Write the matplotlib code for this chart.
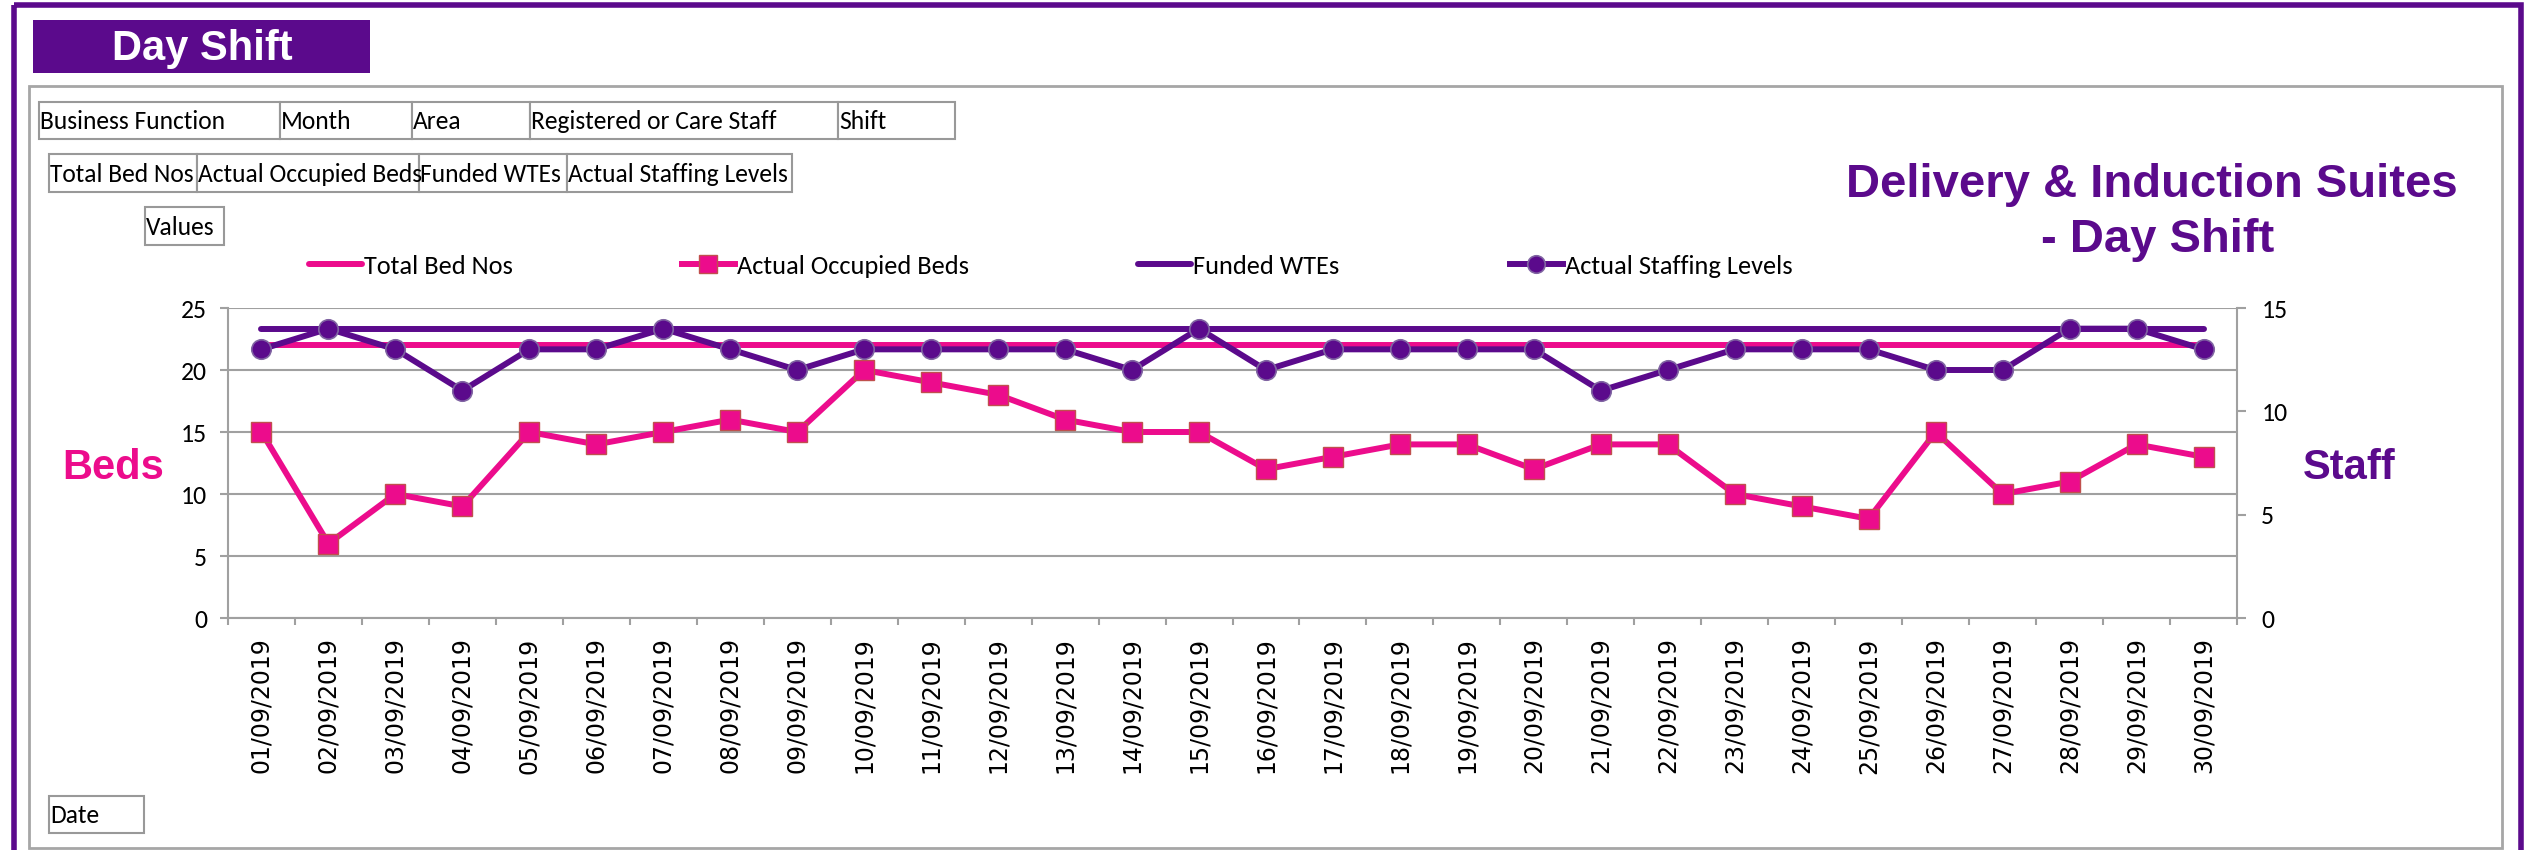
import matplotlib
matplotlib.use("Agg")
import matplotlib.pyplot as plt
from matplotlib.patches import Rectangle
from matplotlib import font_manager as fm

# ---------------- data ----------------
dates = ["01/09/2019", "02/09/2019", "03/09/2019", "04/09/2019", "05/09/2019",
         "06/09/2019", "07/09/2019", "08/09/2019", "09/09/2019", "10/09/2019",
         "11/09/2019", "12/09/2019", "13/09/2019", "14/09/2019", "15/09/2019",
         "16/09/2019", "17/09/2019", "18/09/2019", "19/09/2019", "20/09/2019",
         "21/09/2019", "22/09/2019", "23/09/2019", "24/09/2019", "25/09/2019",
         "26/09/2019", "27/09/2019", "28/09/2019", "29/09/2019", "30/09/2019"]
total_bed_nos = [22, 22, 22, 22, 22, 22, 22, 22, 22, 22, 22, 22, 22, 22, 22,
                 22, 22, 22, 22, 22, 22, 22, 22, 22, 22, 22, 22, 22, 22, 22]
actual_occupied_beds = [15, 6, 10, 9, 15, 14, 15, 16, 15, 20, 19, 18, 16, 15, 15,
                        12, 13, 14, 14, 12, 14, 14, 10, 9, 8, 15, 10, 11, 14, 13]
funded_wtes = [14, 14, 14, 14, 14, 14, 14, 14, 14, 14, 14, 14, 14, 14, 14,
               14, 14, 14, 14, 14, 14, 14, 14, 14, 14, 14, 14, 14, 14, 14]
actual_staffing_levels = [13, 14, 13, 11, 13, 13, 14, 13, 12, 13, 13, 13, 13, 12, 14,
                          12, 13, 13, 13, 13, 11, 12, 13, 13, 13, 12, 12, 14, 14, 13]
series_labels = ["Total Bed Nos", "Actual Occupied Beds", "Funded WTEs", "Actual Staffing Levels"]
left_ticks = [0, 5, 10, 15, 20, 25]
right_ticks = [0, 5, 10, 15]
row1_fields = ["Business Function", "Month", "Area", "Registered or Care Staff", "Shift"]
row2_fields = ["Total Bed Nos", "Actual Occupied Beds", "Funded WTEs", "Actual Staffing Levels"]

# ---------------- style ----------------
PINK = "#EC0C8C"
PURPLE = "#5B0A8C"
GRAY = "#A0A0A0"

names = {f.name for f in fm.fontManager.ttflist}
NARROW, NSCALE = "Liberation Sans", 0.84
for cand, sc in [("Carlito", 1.0), ("Liberation Sans Narrow", 0.95),
                 ("Fira Sans Condensed", 0.9), ("Open Sans", 0.85)]:
    if cand in names:
        NARROW, NSCALE = cand, sc
        break
BOLD = "Liberation Sans" if "Liberation Sans" in names else "DejaVu Sans"

W, H = 2524, 850
fig = plt.figure(figsize=(W / 100, H / 100), dpi=100)
fig.patch.set_facecolor("white")

bg = fig.add_axes([0, 0, 1, 1])
bg.set_xlim(0, W)
bg.set_ylim(H, 0)
bg.axis("off")
bg.set_zorder(0)

# frames
bg.add_patch(Rectangle((14, 5), 2520.5 - 14, 900, fill=False, ec=PURPLE, lw=4))
bg.add_patch(Rectangle((28.5, 86), 2502 - 28.5, 848 - 86, fill=False, ec="#A6A6A6", lw=2))

# Day Shift banner
bg.add_patch(Rectangle((33, 20), 370 - 33, 73 - 20, fc=PURPLE, ec="none"))
bg.text(202, 60, "Day Shift", color="white", fontsize=30, fontweight="bold",
        family=BOLD, ha="center", va="baseline")


def field_box(x0, x1, y0, y1, label):
    bg.add_patch(Rectangle((x0, y0), x1 - x0, y1 - y0, fc="white", ec="#999999", lw=1.5))
    bg.text(x0 + 1, (y0 + y1) / 2 + 1, label, fontsize=18.4 * NSCALE, family=NARROW,
            ha="left", va="center", color="black")


row1_x = [38.5, 280, 412, 530, 838, 955]
for i, lab in enumerate(row1_fields):
    field_box(row1_x[i], row1_x[i + 1], 102, 139, lab)
row2_x = [49, 197, 419, 567, 792]
for i, lab in enumerate(row2_fields):
    field_box(row2_x[i], row2_x[i + 1], 154, 192, lab)
field_box(145, 224, 207, 245, "Values")
field_box(49, 144, 796, 833, "Date")

# title
bg.text(2152, 197, "Delivery & Induction Suites", color=PURPLE, fontsize=34,
        fontweight="bold", family=BOLD, ha="center", va="baseline")
bg.text(2158, 252, "- Day Shift", color=PURPLE, fontsize=34,
        fontweight="bold", family=BOLD, ha="center", va="baseline")

# axis titles
bg.text(113, 479, "Beds", color=PINK, fontsize=30, fontweight="bold",
        family=BOLD, ha="center", va="baseline")
bg.text(2349, 479, "Staff", color=PURPLE, fontsize=30, fontweight="bold",
        family=BOLD, ha="center", va="baseline")

# ---------------- chart ----------------
L, R, T, B = 228, 2237, 308, 618
ax = fig.add_axes([L / W, 1 - B / H, (R - L) / W, (B - T) / H])
ax.set_zorder(2)
ax.set_facecolor("none")
ax2 = ax.twinx()
ax2.set_zorder(3)

x = list(range(1, len(dates) + 1))
lw = 4.3
h1, = ax.plot(x, total_bed_nos, color=PINK, lw=lw, solid_capstyle="round",
              label=series_labels[0])
h2, = ax.plot(x, actual_occupied_beds, color=PINK, lw=lw, marker="s", ms=14,
              mfc=PINK, mec="#C0504D", mew=1, label=series_labels[1])
h3, = ax2.plot(x, funded_wtes, color=PURPLE, lw=lw, solid_capstyle="round",
               label=series_labels[2])
h4, = ax2.plot(x, actual_staffing_levels, color=PURPLE, lw=lw, marker="o", ms=14,
               mfc=PURPLE, mec="#8064A2", mew=1.2, label=series_labels[3])

ax.set_xlim(0.5, len(dates) + 0.5)
ax.set_ylim(0, 25)
ax2.set_ylim(0, 15)

ax.set_yticks(left_ticks)
ax2.set_yticks(right_ticks)
ax.grid(axis="y", color=GRAY, lw=1.5)
ax.set_axisbelow(True)

ax.set_xticks([i + 0.5 for i in range(0, len(dates) + 1)])
ax.set_xticklabels([])
ax.set_xticks(x, minor=True)
ax.set_xticklabels(dates, minor=True, rotation=90, family="DejaVu Sans", fontsize=17)
ax.tick_params(axis="x", which="major", length=5, width=1.5, color=GRAY, direction="out")
ax.tick_params(axis="x", which="minor", length=0, pad=14)

ax.tick_params(axis="y", length=6, width=1.5, color=GRAY, pad=9, labelsize=18.5 * NSCALE)
for lab in ax.get_yticklabels():
    lab.set_family(NARROW)
ax2.tick_params(axis="y", length=6.5, width=1.5, color=GRAY, pad=11, labelsize=18.5 * NSCALE)
for lab in ax2.get_yticklabels():
    lab.set_family(NARROW)

for a in (ax, ax2):
    for s in a.spines.values():
        s.set_visible(False)
ax.spines["left"].set_visible(True)
ax.spines["bottom"].set_visible(True)
ax2.spines["right"].set_visible(True)
for s in (ax.spines["left"], ax.spines["bottom"], ax2.spines["right"]):
    s.set_color(GRAY)
    s.set_linewidth(1.5)

# legend: one entry per slot, placed like the reference
fs_leg = 19 * NSCALE
legend_x = [309, 682, 1138, 1510]
for hnd, lab, lx in zip([h1, h2, h3, h4], series_labels, legend_x):
    fig.legend([hnd], [lab], loc="center left",
               bbox_to_anchor=(lx / W, 1 - 266 / H), bbox_transform=fig.transFigure,
               frameon=False, prop={"family": NARROW, "size": fs_leg},
               handlelength=2.0, handletextpad=0.1, markerscale=0.9,
               borderpad=0, borderaxespad=0)

fig.savefig("out.png", dpi=100, facecolor="white")
